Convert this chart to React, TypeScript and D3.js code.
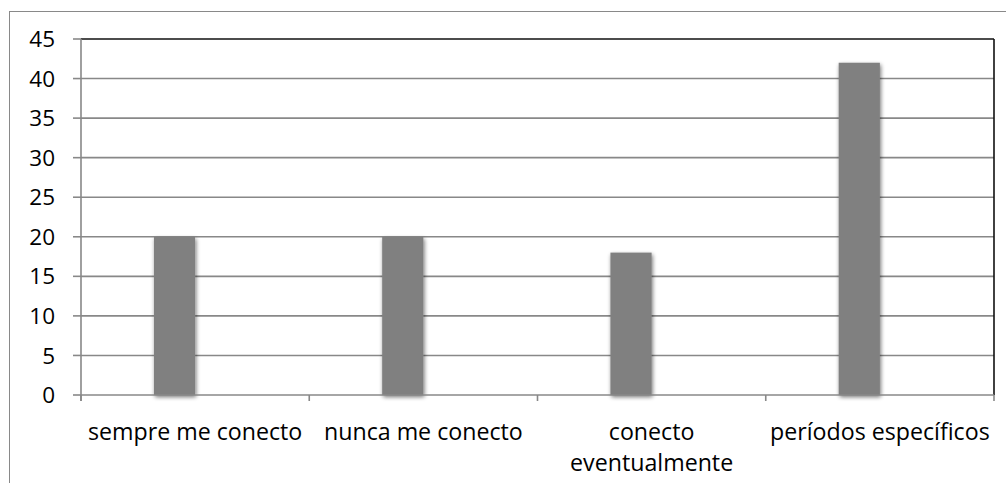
import React from "react";
import * as d3 from "d3";

const categories = ["sempre me conecto", "nunca me conecto", "conecto\neventualmente", "períodos específicos"];
const series1 = [20, 20, 18, 42];
const series2: (number | null)[] = [null, null, null, null];
const yTicks = [0, 5, 10, 15, 20, 25, 30, 35, 40, 45];

const W = 1006, H = 483;
const left = 81, right = 994, top = 39, bottom = 395;
const FONT = "'Open Sans', sans-serif";

export default function App() {
  const x = d3.scaleBand<string>().domain(categories).range([left, right]).paddingInner(0).paddingOuter(0);
  const inner = d3.scaleBand<string>().domain(["s1", "s2"]).range([0, x.bandwidth()]).paddingInner(0).paddingOuter(1.77);
  const y = d3.scaleLinear().domain([0, 45]).range([bottom, top]);
  const catBounds = categories.map((c) => x(c)!).concat([right]);

  return (
    <svg width={W} height={H} style={{ position: "absolute", left: 0, top: 0, background: "#fff" }}>
      <defs>
        <filter id="sh" x="-30%" y="-10%" width="160%" height="120%">
          <feGaussianBlur in="SourceAlpha" stdDeviation="2.2" />
          <feOffset dx="1" dy="2" result="b" />
          <feComponentTransfer><feFuncA type="linear" slope="0.55" /></feComponentTransfer>
          <feMerge><feMergeNode /><feMergeNode in="SourceGraphic" /></feMerge>
        </filter>
      </defs>
      <rect x={9.5} y={11.5} width={W} height={H} fill="none" stroke="#898989" strokeWidth={1} />
      {yTicks.filter((t) => t !== 0 && t !== 45).map((t) => (
        <line key={t} x1={left} x2={right} y1={y(t)} y2={y(t)} stroke="#888" strokeWidth={1.6} />
      ))}
      <line x1={left} x2={right} y1={y(45)} y2={y(45)} stroke="#111" strokeWidth={1.6} />
      <line x1={right} x2={right} y1={y(45)} y2={y(0)} stroke="#111" strokeWidth={1.6} />
      {categories.map((c, i) => (
        <rect key={c} x={x(c)! + inner("s1")!} width={inner.bandwidth()} y={y(series1[i])} height={y(0) - y(series1[i])} fill="#808080" filter="url(#sh)" />
      ))}
      {categories.map((c, i) => series2[i] == null ? null : (
        <rect key={c + "2"} x={x(c)! + inner("s2")!} width={inner.bandwidth()} y={y(series2[i]!)} height={y(0) - y(series2[i]!)} fill="#808080" />
      ))}
      <line x1={left} x2={right} y1={y(0)} y2={y(0)} stroke="#888" strokeWidth={1.6} />
      <line x1={left} x2={left} y1={y(45)} y2={y(0) + 6} stroke="#888" strokeWidth={1.6} />
      {yTicks.map((t) => (
        <g key={t}>
          <line x1={left - 8} x2={left} y1={y(t)} y2={y(t)} stroke="#888" strokeWidth={1.6} />
          <text x={55} y={y(t)} dy="0.36em" textAnchor="end" fontFamily={FONT} fontSize={22.5} fill="#000">{t}</text>
        </g>
      ))}
      {catBounds.map((b, i) => (
        <line key={i} x1={b} x2={b} y1={y(0)} y2={y(0) + 6} stroke="#888" strokeWidth={1.6} />
      ))}
      {categories.map((c) => (
        <text key={c} x={x(c)! + x.bandwidth() / 2} y={440} textAnchor="middle" fontFamily={FONT} fontSize={23.2} fill="#000">
          {c.split("\n").map((ln, j) => (
            <tspan key={j} x={x(c)! + x.bandwidth() / 2} dy={j === 0 ? 0 : 31}>{ln}</tspan>
          ))}
        </text>
      ))}
    </svg>
  );
}
